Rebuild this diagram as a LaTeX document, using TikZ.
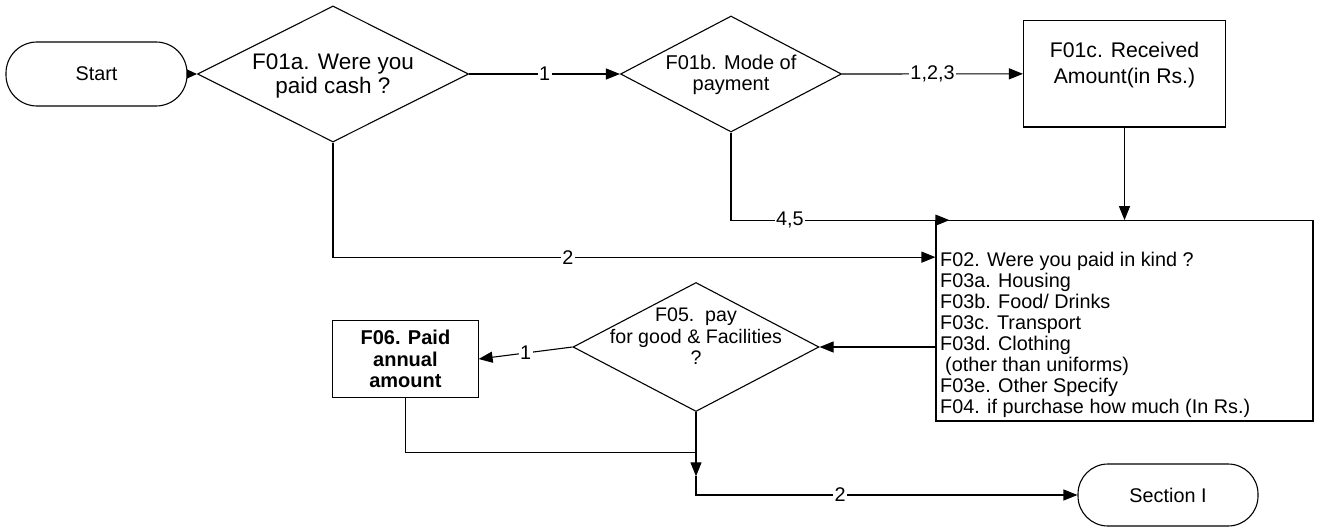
\documentclass[tikz,border=0pt]{standalone}
\usepackage{fontspec}
\setmainfont{Liberation Sans}
\usetikzlibrary{shapes.geometric,arrows.meta,calc}
\begin{document}
\begin{tikzpicture}[x=1pt,y=-1pt,
  every node/.style={font=\fontsize{19.8}{21.5}\selectfont},
  ln/.style={line width=1.1pt, draw=black},
  arr/.style={ln, -{Triangle[length=14pt,width=11pt]}},
  term/.style={draw, line width=1.1pt, rounded corners=31pt, minimum width=181pt, minimum height=64pt, inner sep=0pt},
  dia/.style={draw, diamond, line width=1.1pt, inner sep=0pt},
  box/.style={draw, rectangle, line width=1.1pt, inner sep=0pt},
  lbl/.style={fill=white, inner sep=1.5pt},
  txt/.style={align=center, inner sep=0pt}]
\useasboundingbox (0,0) rectangle (1317,527);
% nodes
\node[term] (start) at (96.5,74) {Start};
\node[dia, minimum width=271pt, minimum height=136pt] (f01a) at (333,74) {};
\node[txt, font=\fontsize{22.5}{24}\selectfont] (f01atext) at (333,76) {F01a. Were you\\paid cash ?};
\node[dia, minimum width=221pt, minimum height=116pt] (f01b) at (731,74) {};
\node[txt, font=\fontsize{20}{20.5}\selectfont] (f01btext) at (731,75) {F01b. Mode of\\payment};
\node[box, minimum width=202pt, minimum height=106.3pt] (f01c) at (1124.5,73.85) {};
\node[txt, font=\fontsize{21.2}{25.7}\selectfont] (f01ctext) at (1124.5,65) {F01c. Received\\Amount(in Rs.)};
\node[box, minimum width=377pt, minimum height=200.3pt] (f02) at (1124.5,320.85) {};
\node[align=left, anchor=west, inner sep=0pt, font=\fontsize{19.8}{21.1}\selectfont] (f02text) at (940,335)
  {F02. Were you paid in kind ?\\F03a. Housing\\F03b. Food/ Drinks\\F03c. Transport\\F03d. Clothing\\\hspace*{5pt}(other than uniforms)\\F03e. Other Specify\\F04. if purchase how much (In Rs.)};
\node[dia, minimum width=246pt, minimum height=129pt] (f05) at (696,347) {};
\node[txt, font=\fontsize{19.6}{21.5}\selectfont] (f05text) at (696,336.5) {F05.\ \ pay\\for good \& Facilities\\?};
\node[box, align=center, font=\bfseries\fontsize{20}{21.5}\selectfont, minimum width=145.3pt, minimum height=76.3pt] (f06) at (405.4,359) {F06. Paid\\annual\\amount};
\node[term, minimum width=180pt, minimum height=62pt, rounded corners=30pt] (sec) at (1168,495) {Section I};
% helper coordinates
\coordinate (t45) at ($(f02.north west)+(14,0)$);
\coordinate (t2) at ($(f02.north west)+(0,37)$);
\coordinate (j) at ($(f05.south)+(0,40.3)$);
\coordinate (k) at ($(f05.south)+(0,64.3)$);
% connectors
\draw[ln, -{Triangle[length=10pt,width=9pt]}] (start.east) -- (f01a.west);
\draw[arr] (f01a.east) -- node[lbl]{1} (f01b.west);
\draw[arr] (f01b.east) -- node[lbl]{1,2,3} (f01c.west);
\draw[arr] (f01c.south) -- (f01c.south |- f02.north);
\draw[arr] (f01b.south) |- node[lbl,pos=0.635]{4,5} (t45);
\draw[arr] (f01a.south) |- node[lbl,pos=0.695]{2} (t2);
\draw[arr] (f05.east -| f02.west) -- (f05.east);
\draw[arr] (f05.west) -- node[lbl]{1} (f06.east);
\draw[ln] (f06.south) |- (j);
\draw[arr] (f05.south) -- (k);
\draw[arr] (k) |- node[lbl,pos=0.689]{2} (sec.west);
\end{tikzpicture}
\end{document}
